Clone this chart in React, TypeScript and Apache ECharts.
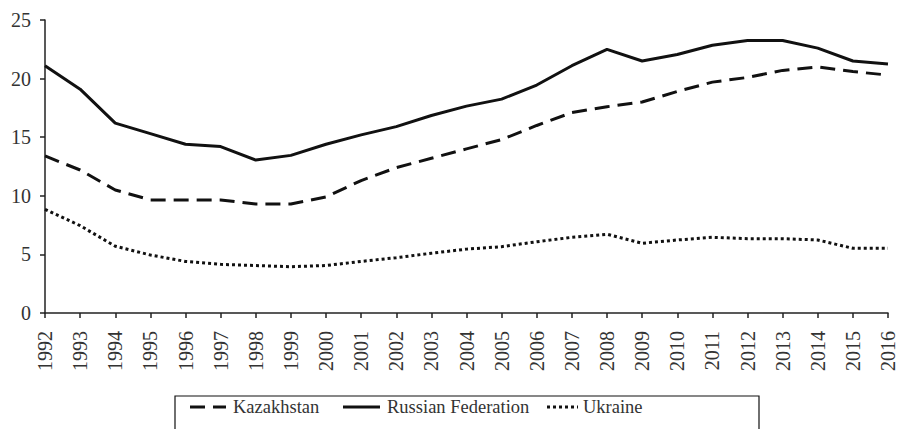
import React, { useEffect, useRef } from "react";
import * as echarts from "echarts";

const years = [
  "1992", "1993", "1994", "1995", "1996", "1997", "1998", "1999", "2000",
  "2001", "2002", "2003", "2004", "2005", "2006", "2007", "2008", "2009",
  "2010", "2011", "2012", "2013", "2014", "2015", "2016",
];

const kazakhstan = [
  13.4, 12.2, 10.5, 9.65, 9.65, 9.65, 9.3, 9.3, 9.9, 11.3, 12.4, 13.2, 14.0,
  14.8, 16.0, 17.1, 17.6, 18.0, 18.9, 19.7, 20.1, 20.7, 21.0, 20.6, 20.3,
];

const russia = [
  21.1, 19.1, 16.2, 15.3, 14.4, 14.2, 13.05, 13.45, 14.4, 15.2, 15.9, 16.85,
  17.65, 18.25, 19.45, 21.1, 22.5, 21.5, 22.05, 22.85, 23.25, 23.25, 22.6,
  21.5, 21.25,
];

const ukraine = [
  8.85, 7.45, 5.7, 4.95, 4.4, 4.15, 4.05, 3.95, 4.05, 4.4, 4.72, 5.1, 5.45,
  5.66, 6.08, 6.46, 6.72, 5.95, 6.23, 6.46, 6.34, 6.34, 6.23, 5.52, 5.52,
];

const seriesNames = ["Kazakhstan", "Russian Federation", "Ukraine"];

const yTicks = { min: 0, max: 25, interval: 5 };

const FONT = "Liberation Serif";

export default function App() {
  const ref = useRef<HTMLDivElement>(null);

  useEffect(() => {
    document.body.style.margin = "0";
    if (!ref.current) return;
    const chart = echarts.init(ref.current, undefined, { renderer: "svg" });
    const lineColor = "#111";
    const dashK = [15, 8];
    const dashU = [3, 3];
    const legendY = 407;
    const legendItems = [
      { name: seriesNames[0], x0: 190, x1: 226, dash: dashK, tx: 233 },
      { name: seriesNames[1], x0: 343, x1: 380, dash: null, tx: 387 },
      { name: seriesNames[2], x0: 547, x1: 578, dash: dashU, tx: 583 },
    ];
    const legendGraphics: any[] = [];
    legendItems.forEach((it) => {
      legendGraphics.push({
        type: "line",
        shape: { x1: it.x0, y1: legendY, x2: it.x1, y2: legendY },
        style: { stroke: lineColor, lineWidth: 3, lineDash: it.dash || undefined },
        silent: true,
      });
      legendGraphics.push({
        type: "text",
        x: it.tx,
        y: legendY,
        style: {
          text: it.name,
          fill: "#333",
          fontFamily: FONT,
          fontSize: 18.5,
          verticalAlign: "middle",
        },
        silent: true,
      });
    });
    chart.setOption({
      animation: false,
      backgroundColor: "#fff",
      grid: { left: 45, right: 11, top: 20, bottom: 116, containLabel: false },
      xAxis: {
        type: "category",
        data: years,
        boundaryGap: false,
        axisLine: { lineStyle: { color: "#222", width: 1.5 } },
        axisTick: { show: true, length: 5, inside: false, interval: 0, lineStyle: { color: "#222", width: 1.5 } },
        axisLabel: {
          rotate: 90,
          interval: 0,
          margin: 18,
          color: "#333",
          fontSize: 20,
          fontFamily: FONT,
        },
        splitLine: { show: false },
      },
      yAxis: {
        type: "value",
        min: yTicks.min,
        max: yTicks.max,
        interval: yTicks.interval,
        axisLine: { show: true, lineStyle: { color: "#222", width: 1.5 } },
        axisTick: { show: true, length: 5, lineStyle: { color: "#222", width: 1.5 } },
        axisLabel: { color: "#333", fontSize: 20, fontFamily: FONT, margin: 14 },
        splitLine: { show: false },
      },
      graphic: [
        {
          type: "rect",
          shape: { x: 175, y: 396, width: 584, height: 60 },
          style: { fill: "none", stroke: "#111", lineWidth: 1.2 },
          silent: true,
        },
        ...legendGraphics,
      ],
      series: [
        {
          name: seriesNames[0],
          type: "line",
          data: kazakhstan,
          symbol: "none",
          lineStyle: { color: lineColor, width: 3, type: dashK, cap: "butt" },
          itemStyle: { color: lineColor },
        },
        {
          name: seriesNames[1],
          type: "line",
          data: russia,
          symbol: "none",
          lineStyle: { color: lineColor, width: 3, type: "solid" },
          itemStyle: { color: lineColor },
        },
        {
          name: seriesNames[2],
          type: "line",
          data: ukraine,
          symbol: "none",
          lineStyle: { color: lineColor, width: 3, type: dashU, cap: "butt" },
          itemStyle: { color: lineColor },
        },
      ],
    });
    return () => chart.dispose();
  }, []);

  return <div ref={ref} style={{ width: 899, height: 429 }} />;
}
